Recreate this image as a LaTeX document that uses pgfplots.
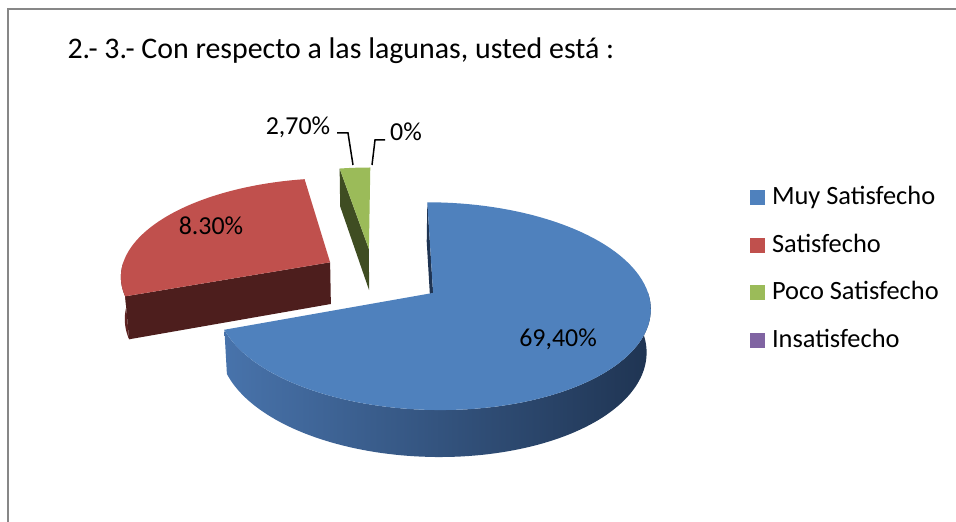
\documentclass[border=0pt]{standalone}
\usepackage{fontspec}
\setmainfont{Carlito}
\usepackage{pgfplots}
\usepackage{pgfplotstable}
\pgfplotsset{compat=1.18}

\definecolor{cBlue}{HTML}{4F81BD}
\definecolor{cRed}{HTML}{C0504D}
\definecolor{cGreen}{HTML}{9BBB59}
\definecolor{cPurple}{HTML}{8064A2}
\definecolor{wallL}{HTML}{4873AB}
\definecolor{wallM}{HTML}{30507A}
\definecolor{wallR}{HTML}{1F3452}
\definecolor{redDark}{HTML}{4D1E1D}
\definecolor{redWall}{HTML}{5E2322}
\definecolor{greenDark}{HTML}{3F4D22}
\definecolor{blueDark}{HTML}{1F3452}
\definecolor{cBorder}{HTML}{878787}

% values (share of the pie drawn, in percent)
\pgfplotstableread{
cat value
MuySatisfecho 69.4
Satisfecho 27.9
PocoSatisfecho 2.7
Insatisfecho 0
}\pietable
\pgfplotstablegetelem{0}{value}\of\pietable \let\vA\pgfplotsretval
\pgfplotstablegetelem{1}{value}\of\pietable \let\vB\pgfplotsretval
\pgfplotstablegetelem{2}{value}\of\pietable \let\vC\pgfplotsretval

% slice boundaries (clockwise from 12 o'clock)
\pgfmathsetmacro{\aA}{90-3.6*\vA}
\pgfmathsetmacro{\aB}{\aA-3.6*\vB}
\pgfmathsetmacro{\aC}{\aB-3.6*\vC}
% explosion of every slice along its bisector
\pgfmathsetmacro{\ex}{0.29}
\pgfmathsetmacro{\xA}{\ex*cos((90+\aA)/2)}
\pgfmathsetmacro{\yA}{\ex*sin((90+\aA)/2)}
\pgfmathsetmacro{\xB}{\ex*cos((\aA+\aB)/2)}
\pgfmathsetmacro{\yB}{\ex*sin((\aA+\aB)/2)}
\pgfmathsetmacro{\xC}{\ex*cos((\aB+\aC)/2)-0.04}
\pgfmathsetmacro{\yC}{\ex*sin((\aB+\aC)/2)}

\begin{document}
\begin{tikzpicture}
\path[use as bounding box] (0,0) rectangle (956bp,522bp);
\begin{axis}[
  at={(0,0)}, anchor=south west,
  scale only axis, width=956bp, height=522bp,
  xmin=0, xmax=956, ymin=0, ymax=522,
  hide axis, clip=false,
  declare function={
    wk(\Y,\Z)=1/(1+((\Y)*0.885-(\Z)*0.4656)/7.08);
    PX(\X,\Y,\Z)=382+210.5*(\X)*wk(\Y,\Z);
    PY(\X,\Y,\Z)=245.7+210.5*((\Y)*0.4656+(\Z)*0.885)*wk(\Y,\Z);
    SX(\U,\V,\R,\A,\W)=PX((\U)+(\R)*cos(\A),(\V)+(\R)*sin(\A),\W);
    SY(\U,\V,\R,\A,\W)=PY((\U)+(\R)*cos(\A),(\V)+(\R)*sin(\A),\W);
  },
  legend style={at={(axis cs:750,335)}, anchor=north west, draw=none, fill=none,
    inner sep=0pt, outer sep=0pt, row sep=25.5bp, column sep=7bp,
    font=\fontsize{26.5}{26.5}\selectfont,
    nodes={inner sep=0pt, text height=18bp, text depth=4bp},
    cells={anchor=west}},
  legend image code/.code={\path[#1, draw=none] (0bp,-7.5bp) rectangle (15bp,7.5bp);},
]
% ---------- Satisfecho (red) ----------
\addplot[forget plot, draw=none, fill=redWall, samples at={0,1,...,201}, variable=\t]
 ({SX(\xB,\yB,1,-180+((\aA)+180)*((\t<=100)*\t+(\t>100)*(201-\t))/100,-0.23*(\t>100))},
  {SY(\xB,\yB,1,-180+((\aA)+180)*((\t<=100)*\t+(\t>100)*(201-\t))/100,-0.23*(\t>100))});
\addplot[forget plot, draw=none, fill=redDark, samples at={0,1,2,3}, variable=\t]
 ({SX(\xB,\yB,(\t>0.5)*(\t<2.5),\aA,-0.23*(\t>1.5))},
  {SY(\xB,\yB,(\t>0.5)*(\t<2.5),\aA,-0.23*(\t>1.5))});
\addplot[forget plot, draw=none, fill=cRed, samples at={0,1,...,101}, variable=\t]
 ({SX(\xB,\yB,(\t<=100),(\aB)+((\aA)-(\aB))*min(\t,100)/100,0)},
  {SY(\xB,\yB,(\t<=100),(\aB)+((\aA)-(\aB))*min(\t,100)/100,0)});
% ---------- Poco Satisfecho (green) ----------
\addplot[forget plot, draw=none, fill=greenDark, samples at={0,1,2,3}, variable=\t]
 ({SX(\xC,\yC,(\t>0.5)*(\t<2.5),\aB,-0.23*(\t>1.5))},
  {SY(\xC,\yC,(\t>0.5)*(\t<2.5),\aB,-0.23*(\t>1.5))});
\addplot[forget plot, draw=none, fill=cGreen, samples at={0,1,...,101}, variable=\t]
 ({SX(\xC,\yC,(\t<=100),(\aC)+((\aB)-(\aC))*min(\t,100)/100,0)},
  {SY(\xC,\yC,(\t<=100),(\aC)+((\aB)-(\aC))*min(\t,100)/100,0)});
% ---------- Muy Satisfecho (blue) ----------
\addplot[forget plot, draw=none, fill=blueDark, samples at={0,1,2,3}, variable=\t]
 ({SX(\xA,\yA,(\t>0.5)*(\t<2.5),90,-0.23*(\t>1.5))},
  {SY(\xA,\yA,(\t>0.5)*(\t<2.5),90,-0.23*(\t>1.5))});
\addplot[forget plot, draw=none, left color=wallL, middle color=wallM, right color=wallR,
  samples at={0,1,...,201}, variable=\t]
 ({SX(\xA,\yA,1,(\aA)+(0-(\aA))*((\t<=100)*\t+(\t>100)*(201-\t))/100,-0.23*(\t>100))},
  {SY(\xA,\yA,1,(\aA)+(0-(\aA))*((\t<=100)*\t+(\t>100)*(201-\t))/100,-0.23*(\t>100))});
\addplot[forget plot, draw=none, fill=cBlue, samples at={0,1,...,101}, variable=\t]
 ({SX(\xA,\yA,(\t<=100),(\aA)+(90-(\aA))*min(\t,100)/100,0)},
  {SY(\xA,\yA,(\t<=100),(\aA)+(90-(\aA))*min(\t,100)/100,0)});

% ---------- data labels ----------
\node[anchor=base, font=\fontsize{26}{26}\selectfont] at (axis cs:558,175.3) {69,40\%};
\node[anchor=base, font=\fontsize{26}{26}\selectfont] at (axis cs:211,287) {8.30\%};
\node[anchor=base, font=\fontsize{26}{26}\selectfont] at (axis cs:298,387) {2,70\%};
\node[anchor=base, font=\fontsize{26}{26}\selectfont] at (axis cs:406,381) {0\%};
\draw[black, line width=1.5bp] (axis cs:337,389) -- (axis cs:348,389) -- (axis cs:353,357);
\draw[black, line width=1.5bp] (axis cs:385,382) -- (axis cs:375,382) -- (axis cs:372,357);

% ---------- legend ----------
\addlegendimage{fill=cBlue}
\addlegendentry{Muy Satisfecho}
\addlegendimage{fill=cRed}
\addlegendentry{Satisfecho}
\addlegendimage{fill=cGreen}
\addlegendentry{Poco Satisfecho}
\addlegendimage{fill=cPurple}
\addlegendentry{Insatisfecho}

% ---------- title and frame ----------
\node[anchor=base west, font=\fontsize{30}{30}\selectfont] at (axis cs:64,463)
  {2.- 3.- Con respecto a las lagunas, usted está :};
\draw[cBorder, line width=2bp] (axis cs:8,-30) -- (axis cs:8,513) -- (axis cs:990,513);
\end{axis}
\end{tikzpicture}
\end{document}
